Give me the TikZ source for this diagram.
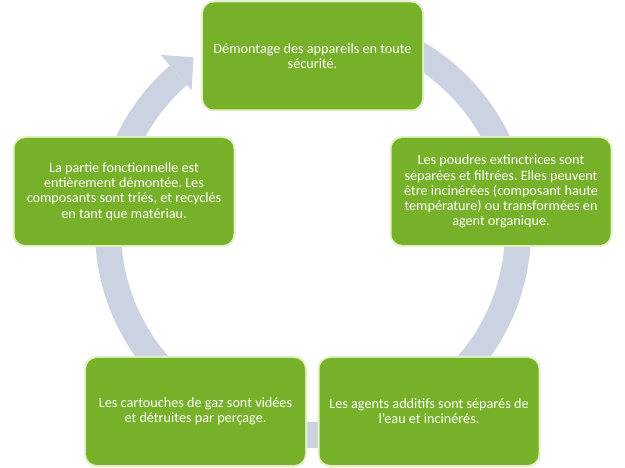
\documentclass[tikz,border=0pt]{standalone}
\usepackage{fontspec}
\setmainfont{Carlito}
\frenchspacing
\definecolor{vert}{HTML}{77B12A}
\definecolor{lueur}{HTML}{E2F2C4}
\definecolor{anneau}{HTML}{CBD3E3}
\tikzset{etape/.style={fill=vert, rounded corners=11pt, minimum width=219pt, minimum height=107pt,
  text=white, align=center, font=\fontsize{14.2}{15.2}\selectfont,
  preaction={draw=lueur, line width=4pt}}}

\begin{document}
\begin{tikzpicture}[x=1pt,y=1pt]
\useasboundingbox (0,0) rectangle (625,468);

% anneau du cycle
\begin{scope}[shift={(313,238)}]
\draw[anneau, line width=26pt] (80:205) arc[start angle=80, end angle=-229, radius=205pt];
\fill[anneau] (131:232) -- (124.7:210) -- (131:185) -- cycle;
%\draw[red] (0,0) circle (205pt);
\end{scope}

\node[etape] (demontage) at (312.5,412) {Démontage des appareils en toute\\sécurité.};
\node[etape] (poudres) at (501,276.5) {Les poudres extinctrices sont\\séparées et filtrées. Elles peuvent\\être incinérées (composant haute\\température) ou transformées en\\agent organique.};
\node[etape] (additifs) at (429,56.5) {Les agents additifs sont séparés de\\l’eau et incinérés.};
\node[etape] (cartouches) at (195.5,56.5) {Les cartouches de gaz sont vidées\\et détruites par perçage.};
\node[etape] (partie) at (124,276.5) {La partie fonctionnelle est\\entièrement démontée. Les\\composants sont triés, et recyclés\\en tant que matériau.};

\end{tikzpicture}
\end{document}
